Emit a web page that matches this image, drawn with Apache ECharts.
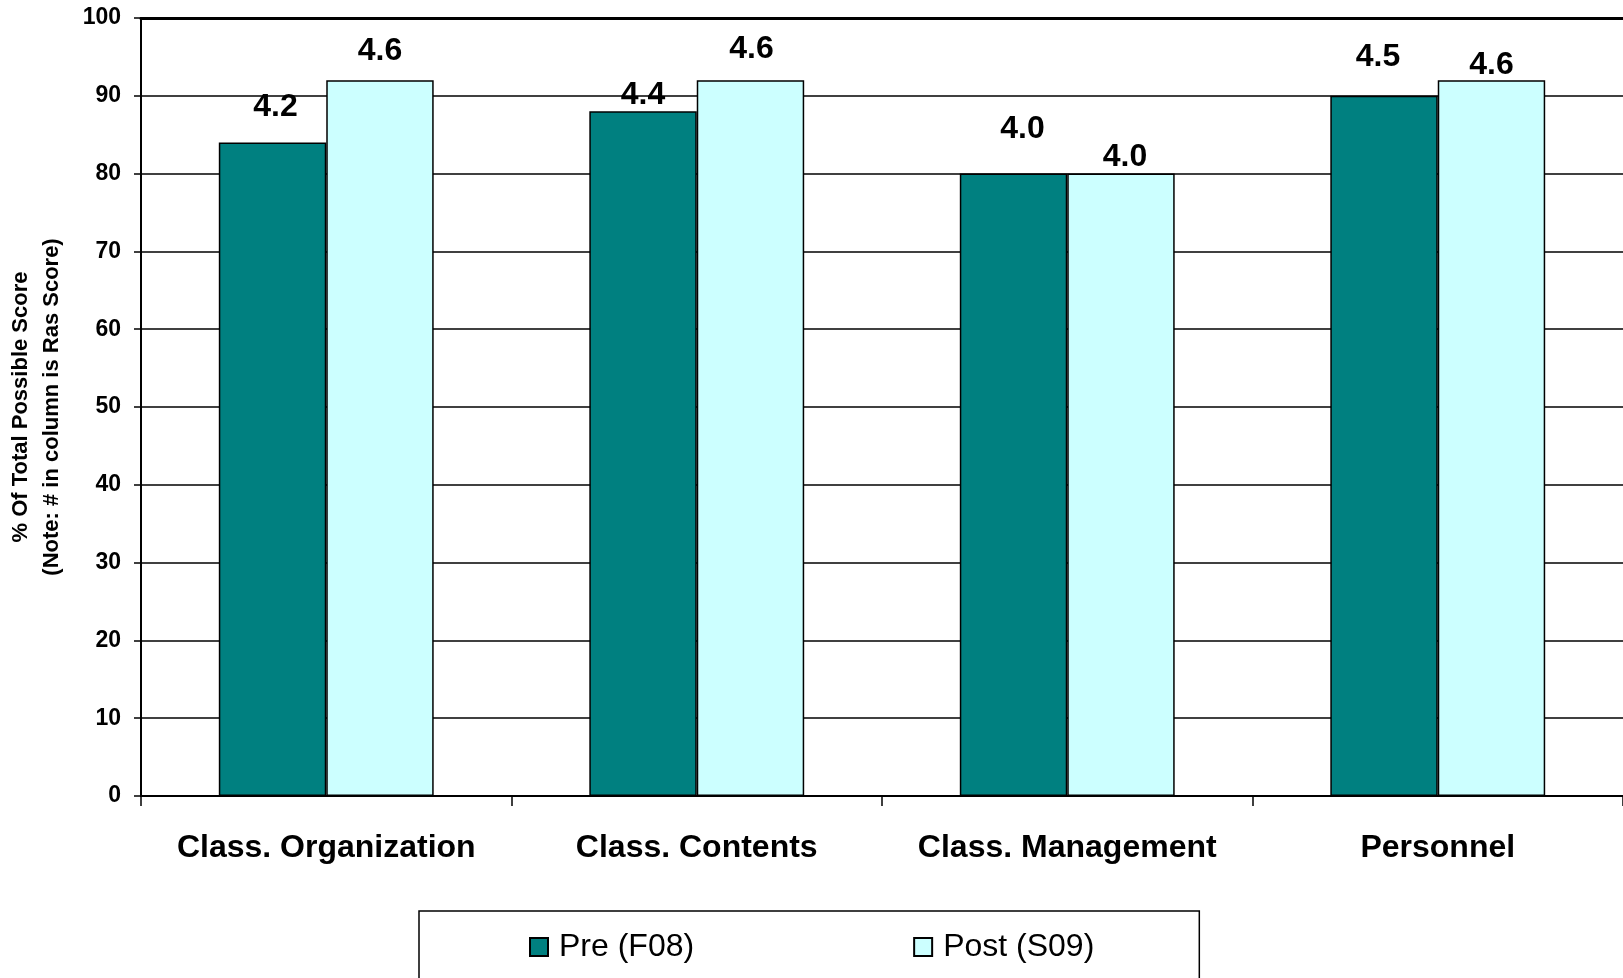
<!DOCTYPE html>
<html>
<head>
<meta charset="utf-8">
<script src="https://cdn.jsdelivr.net/npm/echarts@6/dist/echarts.min.js"></script>
<style>
html,body{margin:0;padding:0;background:#fff;}
#chart{width:1623px;height:978px;}
</style>
</head>
<body>
<div id="chart"></div>
<script>
// ---- data ----
const categories = ['Class. Organization', 'Class. Contents', 'Class. Management', 'Personnel'];
const preValues = [84, 88, 80, 90];      // % of total possible score, Pre (F08)
const postValues = [92, 92, 80, 92];     // % of total possible score, Post (S09)
const preLabels = ['4.2', '4.4', '4.0', '4.5'];   // raw scores shown above bars
const postLabels = ['4.6', '4.6', '4.0', '4.6'];
const yTicks = [0, 10, 20, 30, 40, 50, 60, 70, 80, 90, 100];
const seriesNames = ['Pre (F08)', 'Post (S09)'];

// ---- styling (label placement as hand-placed in the original) ----
const preLabelGap = [19, 0, 28, 23];
const postLabelGap = [13, 15, 0, -1];
const preLabelShift = [3, 0, 9, -6];
const postLabelShift = [0, 1, 4, 0];

const FONT = '"Liberation Sans", Arial, sans-serif';

function buildData(values, labels, gaps, shifts) {
  return values.map((v, i) => ({
    value: v,
    label: { formatter: labels[i], distance: gaps[i], offset: [shifts[i], 0] }
  }));
}

const labelStyle = {
  show: true,
  position: 'top',
  fontFamily: FONT,
  fontSize: 32,
  fontWeight: 'bold',
  color: '#000',
  lineHeight: 32
};

const chart = echarts.init(document.getElementById('chart'), null, { renderer: 'canvas' });
chart.setOption({
  animation: false,
  backgroundColor: '#fff',
  grid: { left: 141, top: 18, right: 0, bottom: 182, containLabel: false, outerBoundsMode: 'none' },
  legend: {
    left: 419,
    top: 911,
    orient: 'horizontal',
    padding: [20, 105, 60, 110],
    itemGap: 219,
    itemWidth: 18,
    itemHeight: 18,
    borderColor: '#000',
    borderWidth: 1.5,
    icon: 'rect',
    data: seriesNames,
    textStyle: { fontFamily: FONT, fontSize: 32, color: '#000', padding: [0, 0, 0, 6], lineHeight: 32 }
  },
  xAxis: [
    {
      type: 'category',
      data: categories,
      position: 'bottom',
      axisLine: { show: true, lineStyle: { color: '#000', width: 2 } },
      axisTick: { show: true, interval: 0, alignWithLabel: false, length: 10, lineStyle: { color: '#000', width: 1.5 } },
      axisLabel: { interval: 0, fontFamily: FONT, fontSize: 32, fontWeight: 'bold', color: '#000', margin: 36, lineHeight: 32 },
      splitLine: { show: false }
    },
    {
      type: 'category',
      data: categories,
      position: 'top',
      axisLine: { show: true, lineStyle: { color: '#000', width: 3 } },
      axisTick: { show: false },
      axisLabel: { show: false },
      splitLine: { show: false }
    }
  ],
  yAxis: {
    type: 'value',
    min: yTicks[0],
    max: yTicks[yTicks.length - 1],
    interval: yTicks[1] - yTicks[0],
    name: '% Of Total Possible Score\n(Note: # in column is Ras Score)',
    nameLocation: 'middle',
    nameRotate: 90,
    nameGap: 74,
    nameTextStyle: { fontFamily: FONT, fontSize: 22, fontWeight: 'bold', color: '#000', lineHeight: 31, align: 'center' },
    axisLine: { show: true, lineStyle: { color: '#000', width: 2 } },
    axisTick: { show: true, inside: false, length: 7, lineStyle: { color: '#000', width: 1.5 } },
    axisLabel: { fontFamily: FONT, fontSize: 23, fontWeight: 'bold', color: '#000', margin: 20 },
    splitLine: { show: true, lineStyle: { color: '#000', width: 1.5 } }
  },
  series: [
    {
      name: seriesNames[0],
      type: 'bar',
      barGap: '0%',
      barCategoryGap: '42%',
      itemStyle: { color: '#008080', borderColor: '#000', borderWidth: 1.5 },
      label: labelStyle,
      data: buildData(preValues, preLabels, preLabelGap, preLabelShift)
    },
    {
      name: seriesNames[1],
      type: 'bar',
      barGap: '0%',
      barCategoryGap: '42%',
      itemStyle: { color: '#CCFFFF', borderColor: '#000', borderWidth: 1.5 },
      label: labelStyle,
      data: buildData(postValues, postLabels, postLabelGap, postLabelShift)
    }
  ]
});
</script>
</body>
</html>
